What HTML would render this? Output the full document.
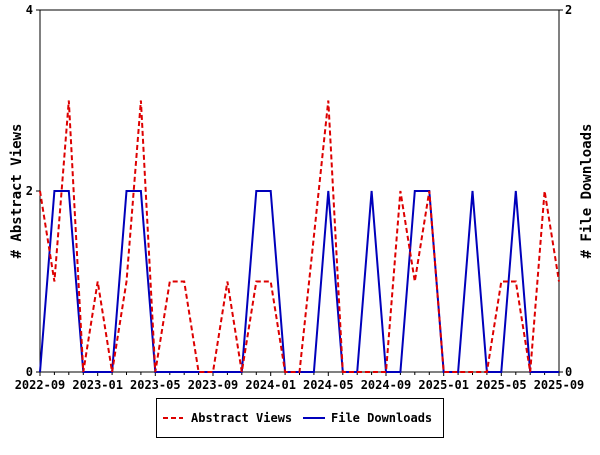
<!DOCTYPE html>
<html><head><meta charset="utf-8"><style>
html,body{margin:0;padding:0;background:#fff;}
svg text{font-family:"DejaVu Sans Mono","Liberation Mono",monospace;font-weight:bold;}
</style></head><body>
<svg width="600" height="450" viewBox="0 0 600 450" xmlns="http://www.w3.org/2000/svg">
<rect width="600" height="450" fill="#fff"/>
<rect x="40" y="10" width="519" height="362" fill="none" stroke="#000" stroke-width="1"/>
<g stroke="#000" stroke-width="1">
<path d="M40 372v4M54.4 372v3M68.8 372v3M83.3 372v3M97.7 372v4M112.1 372v3M126.5 372v3M140.9 372v3M155.3 372v4M169.8 372v3M184.2 372v3M198.6 372v3M213 372v4M227.4 372v3M241.8 372v3M256.3 372v3M270.7 372v4M285.1 372v3M299.5 372v3M313.9 372v3M328.3 372v4M342.8 372v3M357.2 372v3M371.6 372v3M386 372v4M400.4 372v3M414.8 372v3M429.3 372v3M443.7 372v4M458.1 372v3M472.5 372v3M486.9 372v3M501.3 372v4M515.8 372v3M530.2 372v3M544.6 372v3M559 372v4"/>
<path d="M36 10h4M36 191h4M36 372h4M559 10h4M559 372h4"/>
</g>
<g font-size="12" fill="#000">
<text x="33" y="14" text-anchor="end">4</text>
<text x="33" y="195" text-anchor="end">2</text>
<text x="33" y="376" text-anchor="end">0</text>
<text x="565" y="14">2</text>
<text x="565" y="376">0</text>
<g text-anchor="middle">
<text x="40" y="389">2022-09</text><text x="97.7" y="389">2023-01</text><text x="155.3" y="389">2023-05</text><text x="213" y="389">2023-09</text><text x="270.7" y="389">2024-01</text><text x="328.3" y="389">2024-05</text><text x="386" y="389">2024-09</text><text x="443.7" y="389">2025-01</text><text x="501.3" y="389">2025-05</text><text x="559" y="389">2025-09</text>
</g>
</g>
<text x="0" y="0" font-size="14" transform="translate(21,191) rotate(-90)" text-anchor="middle">#  Abstract Views</text>
<text x="0" y="0" font-size="14" transform="translate(591,191) rotate(-90)" text-anchor="middle"># File Downloads</text>
<polyline fill="none" stroke="#0000bb" stroke-width="2" points="40,372 54.4,191 68.8,191 83.3,372 97.7,372 112.1,372 126.5,191 140.9,191 155.3,372 169.8,372 184.2,372 198.6,372 213,372 227.4,372 241.8,372 256.3,191 270.7,191 285.1,372 299.5,372 313.9,372 328.3,191 342.8,372 357.2,372 371.6,191 386,372 400.4,372 414.8,191 429.3,191 443.7,372 458.1,372 472.5,191 486.9,372 501.3,372 515.8,191 530.2,372 544.6,372 559,372"/>
<polyline fill="none" stroke="#dd0000" stroke-width="2" stroke-dasharray="5,3" points="40,191 54.4,281.5 68.8,100.5 83.3,372 97.7,281.5 112.1,372 126.5,281.5 140.9,100.5 155.3,372 169.8,281.5 184.2,281.5 198.6,372 213,372 227.4,281.5 241.8,372 256.3,281.5 270.7,281.5 285.1,372 299.5,372 328.3,100.5 342.8,372 357.2,372 371.6,372 386,372 400.4,191 414.8,281.5 429.3,191 443.7,372 458.1,372 472.5,372 486.9,372 501.3,281.5 515.8,281.5 530.2,372 544.6,191 559,281.5"/>
<rect x="156.5" y="398.5" width="287" height="39" fill="#fff" stroke="#000" stroke-width="1"/>
<line x1="163" y1="418" x2="183" y2="418" stroke="#dd0000" stroke-width="2" stroke-dasharray="5,3"/>
<text x="191" y="422" font-size="12">Abstract Views</text>
<line x1="303" y1="418" x2="325" y2="418" stroke="#0000bb" stroke-width="2"/>
<text x="331" y="422" font-size="12">File Downloads</text>
</svg>
</body></html>
